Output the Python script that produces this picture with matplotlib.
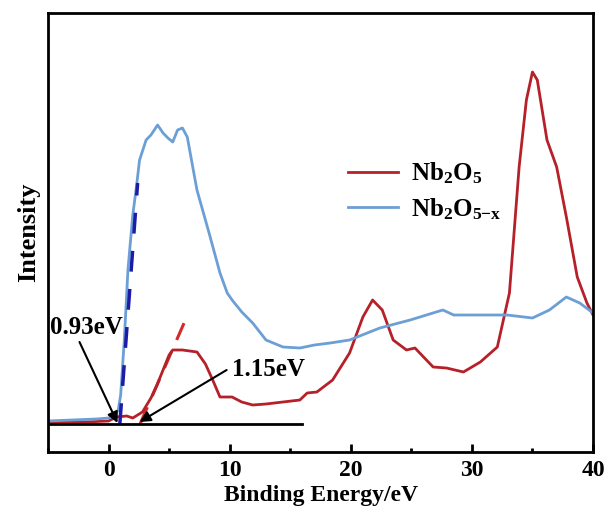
import numpy as np
import matplotlib.pyplot as plt
from matplotlib.ticker import MultipleLocator

plt.rcParams['font.family'] = 'Liberation Serif'
plt.rcParams['font.weight'] = 'bold'
plt.rcParams['mathtext.fontset'] = 'custom'
plt.rcParams['mathtext.rm'] = 'Liberation Serif:bold'
plt.rcParams['mathtext.it'] = 'Liberation Serif:bold'
plt.rcParams['mathtext.bf'] = 'Liberation Serif:bold'
plt.rcParams['mathtext.default'] = 'rm'

# Nb2O5-x spectrum (arbitrary intensity units)
blue_x = [-5, -3, -1, 0, 0.5, 0.8, 1.0, 1.3, 1.6, 2.0, 2.3, 2.56, 3.1, 3.5, 4.05, 4.5,
          4.9, 5.3, 5.7, 6.1, 6.5, 7.3, 8.3, 9.2, 9.8, 10.2, 11.0, 11.9, 13.0, 14.4,
          15.8, 17.0, 18.3, 19.9, 22.4, 24.9, 27.6, 28.5, 29.6, 31.0, 32.9, 35.0,
          36.4, 37.8, 38.9, 39.9]
blue_y = [31, 32, 33, 34, 37, 42, 57, 112, 182, 237, 265, 292, 312, 317, 327, 319,
          314, 310, 322, 324, 315, 262, 219, 179, 159, 152, 140, 129, 112, 105,
          104, 107, 109, 112, 124, 132, 142, 137, 137, 137, 137, 134,
          142, 155, 149, 140]

# Nb2O5 spectrum
red_x = [-5, -2, 0, 0.66, 1.5, 2.0, 2.8, 3.5, 4.0, 4.5, 5.0, 5.3, 6.1, 7.3, 8.0, 8.6,
         9.2, 10.2, 11.0, 11.9, 13.0, 14.4, 15.8, 16.4, 17.2, 18.5, 19.9, 21.0, 21.8,
         22.6, 23.5, 24.6, 25.3, 26.8, 27.9, 29.3, 30.7, 32.1, 33.1, 33.9, 34.5, 35.0,
         35.4, 36.2, 37.0, 37.8, 38.7, 39.5, 40.0]
red_y = [30, 30, 31, 35, 36, 34, 40, 54, 67, 82, 97, 102, 102, 100, 88, 72,
         55, 55, 50, 47, 48, 50, 52, 59, 60, 72, 99, 135, 152,
         142, 112, 102, 104, 85, 84, 80, 90, 105, 159, 285, 352, 380,
         372, 312, 285, 235, 175, 149, 137]

baseline = 28
blue_onset = 0.93
red_onset = 2.6

fig = plt.figure(figsize=(6.08, 5.15), dpi=100)
ax = fig.add_axes([48 / 608, 63 / 515, 545 / 608, 439 / 515])

# tangent line for Nb2O5 sits under the curve
ax.plot([red_onset, 6.45], [baseline, 135], color='#d42a2a', lw=2.2, ls=(0, (6, 4)), zorder=1)

ax.plot(red_x, red_y, color='#b52029', lw=2, label='Nb$_2$O$_5$', zorder=2)
ax.plot(blue_x, blue_y, color='#6b9fd6', lw=2, label='Nb$_2$O$_{5\\mathrm{-x}}$', zorder=2)

ax.plot([blue_onset, 2.4], [baseline, 269], color='#1c1ca8', lw=2.5, ls=(0, (6, 5)), zorder=3)
ax.plot([-5, 16], [baseline, baseline], color='black', lw=2, zorder=3)

ax.text(-4.85, 124, '0.93eV', fontsize=18, fontweight='bold', va='center', ha='left')
ax.text(10.2, 83, '1.15eV', fontsize=18, fontweight='bold', va='center', ha='left')
arrow = dict(arrowstyle='-|>', color='black', lw=1.5, shrinkA=0, shrinkB=0,
             mutation_scale=16)
ax.annotate('', xy=(0.74, baseline + 1), xytext=(-2.4, 110), arrowprops=arrow)
ax.annotate('', xy=(2.56, baseline + 2), xytext=(9.75, 82), arrowprops=arrow)

ax.set_xlim(-5, 40)
ax.set_ylim(0, 439)
ax.xaxis.set_major_locator(MultipleLocator(10))
ax.xaxis.set_minor_locator(MultipleLocator(5))
ax.tick_params(axis='x', which='major', direction='in', length=6, width=2,
               labelsize=17, pad=6)
ax.tick_params(axis='x', which='minor', direction='in', length=3, width=2)
ax.set_yticks([])
for s in ax.spines.values():
    s.set_linewidth(2)

ax.set_xlabel('Binding Energy/eV', fontsize=17, fontweight='bold', labelpad=3)
ax.set_ylabel('Intensity', fontsize=19, fontweight='bold', labelpad=6)

ax.legend(loc='upper left', bbox_to_anchor=(0.51, 0.715), frameon=False, fontsize=18,
          handlelength=2.0, handletextpad=0.5, labelspacing=0.4)

fig.savefig('out.png', dpi=100)
